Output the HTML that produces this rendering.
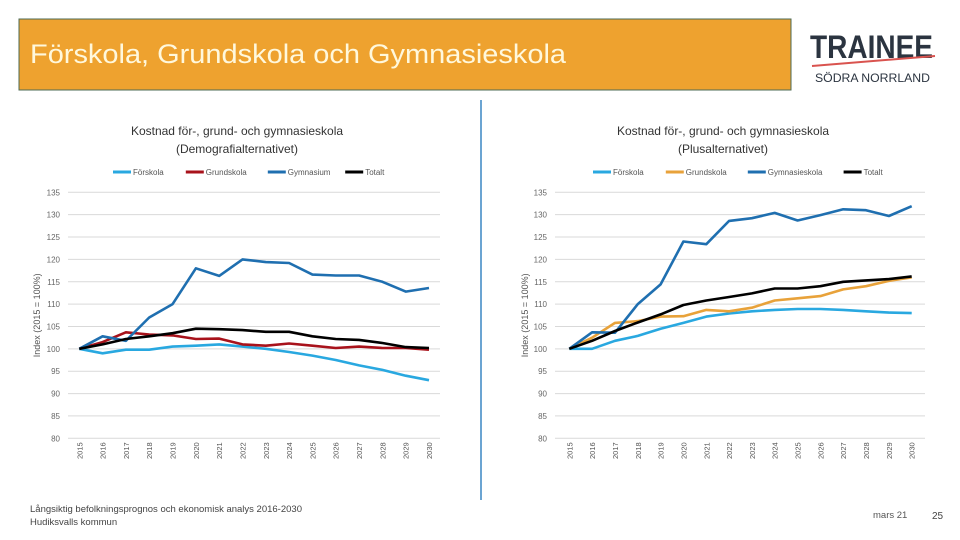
<!DOCTYPE html>
<html><head><meta charset="utf-8"><style>
html,body{margin:0;padding:0;background:#fff;width:960px;height:540px;overflow:hidden;font-family:"Liberation Sans",sans-serif}
</style></head><body>
<svg id="s" width="960" height="540" xmlns="http://www.w3.org/2000/svg" font-family="Liberation Sans, sans-serif">
<rect x="19" y="19" width="772" height="71" fill="#eea22f" stroke="#4e6b55" stroke-width="1"/>
<text x="30" y="63" font-size="27" fill="#fff8dc" textLength="536" lengthAdjust="spacingAndGlyphs">Förskola, Grundskola och Gymnasieskola</text>
<g>
<text x="810" y="58" font-size="32" font-weight="bold" fill="#2b3440" textLength="123" lengthAdjust="spacingAndGlyphs">TRAINEE</text>
<line x1="812" y1="66" x2="935" y2="56" stroke="#d9534f" stroke-width="2"/>
<text x="815" y="82" font-size="12" fill="#2b3440" textLength="115" lengthAdjust="spacingAndGlyphs">SÖDRA NORRLAND</text>
</g>
<line x1="481" y1="100" x2="481" y2="500" stroke="#3a85c4" stroke-width="1.5"/>
<g id="c1"></g><g id="c2"></g>
<text x="30" y="512" font-size="9.5" fill="#444">Långsiktig befolkningsprognos och ekonomisk analys 2016-2030</text>
<text x="30" y="525" font-size="9.5" fill="#444">Hudiksvalls kommun</text>
<text x="873" y="518" font-size="9.5" fill="#555">mars 21</text>
<text x="932" y="519" font-size="10" fill="#444">25</text>
</svg>
<script>
const years=[2015,2016,2017,2018,2019,2020,2021,2022,2023,2024,2025,2026,2027,2028,2029,2030];
const yTicks=[80,85,90,95,100,105,110,115,120,125,130,135];
const leftNames=["Förskola","Grundskola","Gymnasium","Totalt"];
const leftForskola=[100,99,99.8,99.8,100.5,100.7,101,100.5,100,99.3,98.5,97.5,96.3,95.3,94,93];
const leftGrundskola=[100,101.5,103.7,103.2,103,102.2,102.3,101,100.7,101.2,100.7,100.2,100.5,100.2,100.2,99.8];
const leftGymnasium=[100,102.8,101.8,107,110,118,116.3,120,119.4,119.2,116.6,116.4,116.4,115,112.8,113.6];
const leftTotalt=[100,101,102.2,102.8,103.5,104.5,104.4,104.2,103.8,103.8,102.8,102.2,102,101.3,100.4,100.2];
const rightNames=["Förskola","Grundskola","Gymnasieskola","Totalt"];
const rightForskola=[100,100,101.8,102.9,104.5,105.8,107.2,107.9,108.4,108.7,108.9,108.9,108.7,108.4,108.1,108];
const rightGrundskola=[100,102.5,105.8,106.2,107.2,107.3,108.7,108.4,109.2,110.8,111.3,111.8,113.3,114,115.2,116];
const rightGymnasieskola=[100,103.7,103.6,110,114.4,124,123.4,128.6,129.2,130.4,128.7,129.9,131.2,131,129.7,131.9];
const rightTotalt=[100,101.8,104,105.9,107.7,109.8,110.8,111.6,112.4,113.5,113.5,114,115,115.3,115.6,116.2];
const NS="http://www.w3.org/2000/svg";
function mk(p,t,a){const e=document.createElementNS(NS,t);for(const k in a)e.setAttribute(k,a[k]);p.appendChild(e);return e;}
function chart(gid,cfg){
 const g=document.getElementById(gid);
 const x=i=>cfg.x0+(cfg.x1-cfg.x0)*(i/(years.length-1));
 const y=v=>cfg.yTop+(135-v)*(cfg.yBot-cfg.yTop)/(135-80);
 let t=mk(g,'text',{x:cfg.cx,y:135,'font-size':12,'text-anchor':'middle',fill:'#333'});t.textContent=cfg.t1;
 
 
 t=mk(g,'text',{x:cfg.cx,y:153,'font-size':12,'text-anchor':'middle',fill:'#333'});t.textContent=cfg.t2;
 
 
 yTicks.forEach(v=>{
  const l=mk(g,'line',{x1:cfg.g0,x2:cfg.g1,y1:y(v),y2:y(v),stroke:'#d9d9d9','stroke-width':1});
  
  
  const tx=mk(g,'text',{x:cfg.g0-8,y:y(v)+3,'font-size':8,'text-anchor':'end',fill:'#666'});tx.textContent=v;
  
  
 });
 years.forEach((yr,i)=>{
  const tx=mk(g,'text',{x:0,y:0,'font-size':7.5,'text-anchor':'end',fill:'#555',transform:`translate(${x(i)+3},${cfg.yBot+4}) rotate(-90)`});tx.textContent=yr;
  
  
 });
 const at=mk(g,'text',{x:0,y:0,'font-size':9,'text-anchor':'middle',fill:'#555',transform:`translate(${cfg.ax},${y(107.5)}) rotate(-90)`});at.textContent='Index (2015 = 100%)';
 
 
 cfg.series.forEach((s,k)=>{
  const d=s.map((v,i)=>(i?'L':'M')+x(i).toFixed(1)+','+y(v).toFixed(1)).join('');
  const p=mk(g,'path',{d:d,fill:'none',stroke:cfg.colors[k],'stroke-width':2.6,'stroke-linejoin':'round'});
  
  
 });
 let lx=cfg.lx;
 cfg.names.forEach((n,k)=>{
  const sw=mk(g,'line',{x1:lx,x2:lx+18,y1:172,y2:172,stroke:cfg.colors[k],'stroke-width':3});
  
  
  const tx=mk(g,'text',{x:lx+20,y:175,'font-size':8,fill:'#555'});tx.textContent=n;
  
  
  lx+=20+n.length*4.6+16;
 });
}
chart('c1',{x0:79.3,x1:429,yTop:192.3,yBot:438.3,g0:68,g1:440,cx:237,ax:40,lx:113,
 t1:'Kostnad för-, grund- och gymnasieskola',t2:'(Demografialternativet)',
 names:leftNames,colors:['#29a8e0','#a8121b','#1f6fb0','#000'],
 series:[leftForskola,leftGrundskola,leftGymnasium,leftTotalt]});
chart('c2',{x0:569.3,x1:911.7,yTop:192.3,yBot:438.3,g0:555,g1:925,cx:723,ax:528,lx:593,
 t1:'Kostnad för-, grund- och gymnasieskola',t2:'(Plusalternativet)',
 names:rightNames,colors:['#29a8e0','#e8a23a','#1f6fb0','#000'],
 series:[rightForskola,rightGrundskola,rightGymnasieskola,rightTotalt]});
</script>
</body></html>
